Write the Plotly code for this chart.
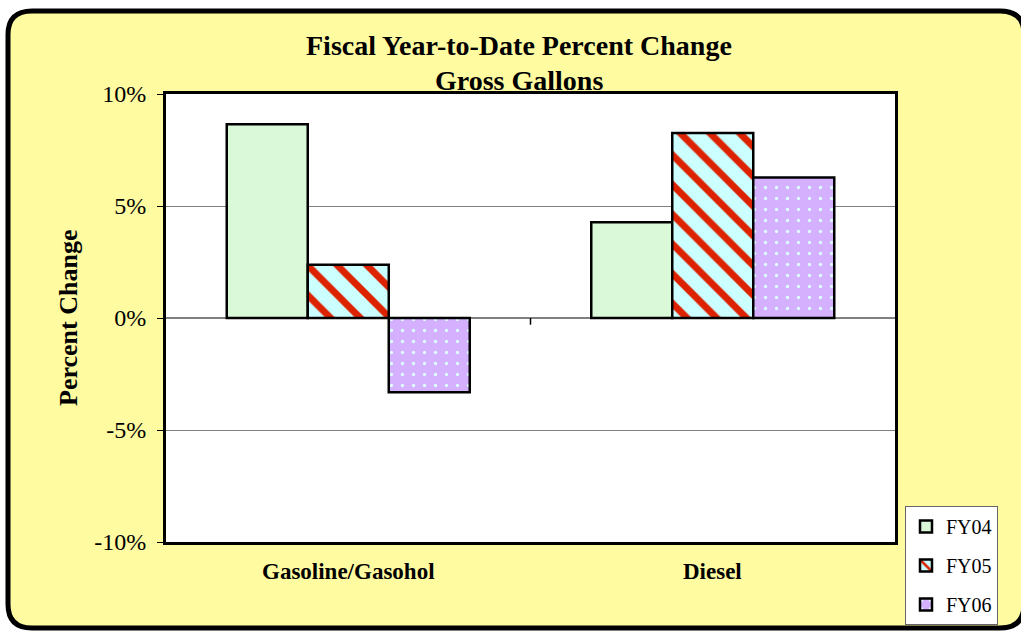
import plotly.graph_objects as go

categories = ["Gasoline/Gasohol", "Diesel"]
series_names = ["FY04", "FY05", "FY06"]
fy04 = [8.65, 4.28]
fy05 = [2.38, 8.26]
fy06 = [-3.31, 6.27]
y_ticks = [-10, -5, 0, 5, 10]
y_tick_labels = ["-10%", "-5%", "0%", "5%", "10%"]

W, H = 1021, 637
L, R, T, B = 166, 895, 94, 547

def px(x):
    return (x - L) / (R - L)

def py(y):
    return (B - y) / (B - T)

FONT = "Liberation Serif, Times New Roman, serif"
fig = go.Figure()

fig.add_trace(go.Bar(
    x=categories, y=fy04, name=series_names[0], legendgroup="a",
    marker=dict(color="#D9F9D9", line=dict(color="black", width=2.5)),
))
fig.add_trace(go.Bar(
    x=categories, y=fy05, name=series_names[1], legendgroup="b",
    marker=dict(color="#CCFFFF", line=dict(color="black", width=2.5),
                pattern=dict(shape="\\", bgcolor="#CCFFFF", fgcolor="#DD2200",
                             fgopacity=1, size=21, solidity=0.33, fillmode="overlay")),
))
fig.add_trace(go.Bar(
    x=categories, y=fy06, name=series_names[2], legendgroup="c",
    marker=dict(color="#D5B0FF", line=dict(color="black", width=2.5),
                pattern=dict(shape=".", bgcolor="#D5B0FF", fgcolor="#DDFFFF",
                             fgopacity=1, size=11, solidity=0.07, fillmode="overlay")),
))

# rounded outer frame (decoration)
x0, x1, y0, y1, r = 8, 1024, 10, 634, 24
path = (f"M {px(x0+r)},{py(y0)} L {px(x1-r)},{py(y0)} "
        f"Q {px(x1)},{py(y0)} {px(x1)},{py(y0+r)} "
        f"L {px(x1)},{py(y1-r)} Q {px(x1)},{py(y1)} {px(x1-r)},{py(y1)} "
        f"L {px(x0+r)},{py(y1)} Q {px(x0)},{py(y1)} {px(x0)},{py(y1-r)} "
        f"L {px(x0)},{py(y0+r)} Q {px(x0)},{py(y0)} {px(x0+r)},{py(y0)} Z")
shapes = [
    dict(type="path", path=path, xref="paper", yref="paper", layer="below",
         fillcolor="#FFFBA0", line=dict(color="black", width=5)),
    dict(type="rect", xref="paper", yref="paper", x0=0, x1=1, y0=0, y1=1,
         layer="below", fillcolor="white", line=dict(width=0)),
    dict(type="line", xref="x", yref="y", x0=0.5, x1=0.5, y0=0, y1=-0.3,
         line=dict(color="black", width=1.5)),
]

annotations = [
    dict(text="<b>Fiscal Year-to-Date Percent Change</b>", x=px(519), y=py(45),
         xref="paper", yref="paper", showarrow=False, font=dict(size=28, family=FONT, color="black"),
         xanchor="center", yanchor="middle"),
    dict(text="<b>Gross Gallons</b>", x=px(519), y=py(80),
         xref="paper", yref="paper", showarrow=False, font=dict(size=28, family=FONT, color="black"),
         xanchor="center", yanchor="middle"),
    dict(text="<b>Percent Change</b>", x=px(68), y=0.5, textangle=-90,
         xref="paper", yref="paper", showarrow=False, font=dict(size=26, family=FONT, color="black"),
         xanchor="center", yanchor="middle"),
]
for c in categories:
    annotations.append(dict(text=f"<b>{c}</b>", x=c, y=py(577), xref="x", yref="paper",
                            showarrow=False, font=dict(size=23, family=FONT, color="black"),
                            xanchor="center", yanchor="middle"))

fig.update_layout(
    width=W, height=H,
    margin=dict(l=L, r=W - R, t=T, b=H - B),
    paper_bgcolor="white", plot_bgcolor="white",
    barmode="group", bargap=1/3, bargroupgap=0,
    font=dict(family=FONT, color="black"),
    shapes=shapes, annotations=annotations,
    showlegend=True,
    legend=dict(x=px(905), y=py(631), xanchor="left", yanchor="bottom",
                bgcolor="white", bordercolor="#666666", borderwidth=1,
                font=dict(size=20, family=FONT, color="black"),
                traceorder="grouped", tracegroupgap=10, itemwidth=30),
    xaxis=dict(showticklabels=False, showline=True, linecolor="black", linewidth=3,
               mirror=True, ticks="", showgrid=False, fixedrange=True),
    yaxis=dict(range=[-10, 10], tickvals=y_ticks, ticktext=y_tick_labels,
               showline=True, linecolor="black", linewidth=3, mirror=True,
               ticks="outside", ticklen=6, tickcolor="black", tickwidth=1,
               showgrid=True, gridcolor="#808080", gridwidth=1,
               zeroline=True, zerolinecolor="#808080", zerolinewidth=1.5,
               tickfont=dict(size=24, family=FONT, color="black"),
               ticklabelstandoff=6),
)

fig.write_html("out.html", config={"displayModeBar": False},
               post_script="document.body.style.margin='0';")
